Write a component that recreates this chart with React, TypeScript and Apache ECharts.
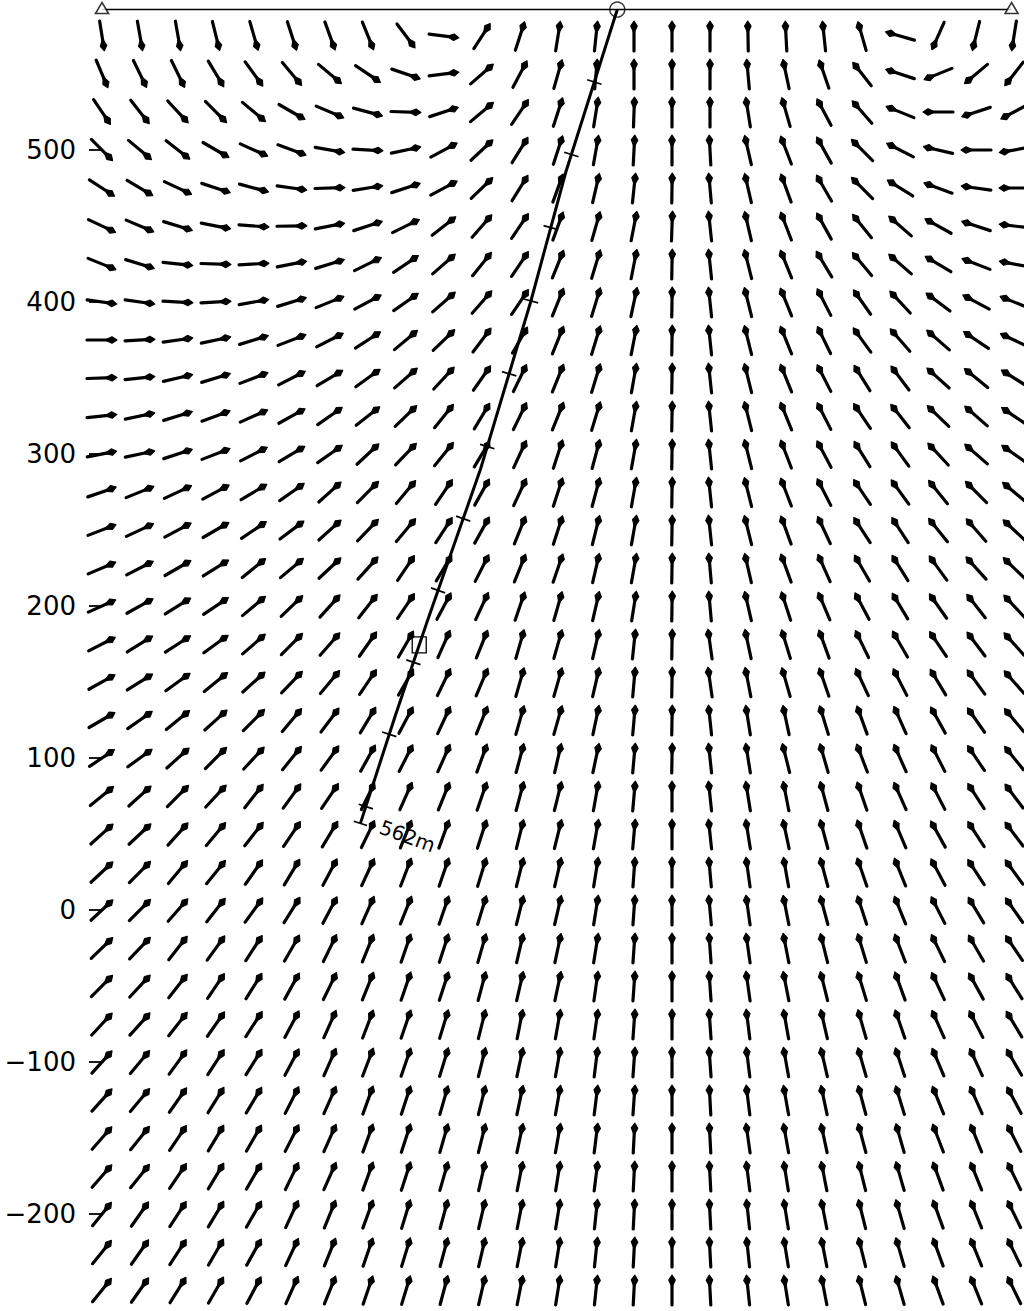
import React, { useEffect, useRef } from "react";
import * as echarts from "echarts";

// Grid of field-vector nodes (metres)
const colX = [0, 25, 50, 75, 100, 125, 150, 175, 200, 225, 250, 275, 300, 325, 350, 375, 400, 425, 450, 475, 500, 525, 550, 575, 600];
const rowY = [575, 550, 525, 500, 475, 450, 425, 400, 375, 350, 325, 300, 275, 250, 225, 200, 175, 150, 125, 100, 75, 50, 25, 0, -25, -50, -75, -100, -125, -150, -175, -200, -225, -250];

// Direction of each field vector, degrees counter-clockwise from +x (one row per rowY)
const fieldAngles: number[][] = [
  [-81, -80, -80, -76, -74, -72, -70, -68, -53, -7, 57, 72, 81, 84, 90, 90, 90, 91, 93, 96, 106, 164, 246, 256, 261],
  [-67, -64, -64, -59, -54, -50, -40, -34, -19, 7, 41, 62, 74, 85, 90, 90, 90, 95, 102, 109, 128, 162, 202, 220, 232],
  [-56, -52, -47, -45, -40, -30, -23, -15, -2, 18, 40, 56, 72, 81, 88, 90, 90, 99, 106, 118, 131, 158, 180, 198, 208],
  [-45, -40, -38, -30, -24, -20, -10, -3, 12, 28, 43, 58, 72, 80, 87, 90, 93, 103, 111, 119, 135, 153, 167, 180, 190],
  [-33, -31, -25, -18, -15, -8, 2, 9, 18, 28, 44, 58, 70, 77, 84, 89, 95, 103, 110, 120, 135, 148, 160, 172, 180],
  [-25, -23, -17, -11, -4, 1, 11, 18, 26, 38, 49, 56, 70, 74, 79, 88, 96, 103, 111, 119, 129, 139, 151, 162, 173],
  [-22, -17, -6, -2, 3, 11, 17, 26, 34, 41, 51, 56, 68, 73, 79, 89, 96, 104, 112, 121, 130, 139, 149, 159, 169],
  [-8, -8, -3, 3, 10, 17, 22, 28, 35, 41, 49, 56, 68, 73, 78, 89, 96, 104, 112, 117, 125, 133, 143, 152, 158],
  [0, 3, 8, 12, 17, 21, 27, 33, 40, 44, 53, 60, 68, 73, 79, 89, 96, 104, 112, 116, 126, 131, 139, 146, 155],
  [2, 6, 13, 17, 21, 27, 31, 36, 41, 47, 55, 64, 68, 73, 80, 89, 96, 104, 112, 117, 122, 127, 138, 141, 148],
  [6, 12, 17, 20, 24, 29, 35, 38, 44, 51, 59, 64, 68, 73, 80, 89, 96, 104, 112, 117, 124, 128, 136, 139, 146],
  [11, 12, 18, 21, 27, 31, 35, 43, 46, 51, 59, 65, 72, 75, 80, 89, 96, 104, 111, 118, 122, 126, 133, 139, 145],
  [19, 22, 25, 28, 31, 35, 42, 45, 50, 56, 61, 65, 72, 75, 80, 89, 96, 104, 111, 117, 124, 126, 129, 135, 140],
  [21, 25, 28, 30, 34, 37, 42, 46, 50, 57, 61, 68, 72, 76, 80, 89, 96, 104, 110, 115, 123, 123, 129, 131, 137],
  [23, 27, 30, 32, 39, 40, 43, 48, 56, 59, 63, 68, 71, 77, 80, 89, 95, 103, 110, 114, 120, 122, 126, 132, 136],
  [24, 29, 32, 34, 40, 44, 48, 52, 56, 62, 65, 71, 74, 77, 81, 89, 95, 103, 108, 113, 118, 121, 125, 128, 133],
  [27, 32, 33, 36, 41, 45, 49, 55, 60, 66, 68, 74, 74, 77, 84, 89, 98, 102, 107, 110, 116, 120, 124, 127, 132],
  [29, 32, 36, 39, 42, 46, 50, 56, 60, 64, 67, 74, 74, 77, 85, 89, 98, 101, 106, 109, 115, 117, 121, 126, 131],
  [30, 35, 39, 42, 45, 50, 53, 59, 62, 65, 68, 74, 74, 78, 85, 89, 96, 99, 102, 107, 110, 114, 119, 125, 130],
  [34, 36, 42, 45, 47, 51, 54, 61, 63, 66, 70, 75, 77, 78, 85, 89, 96, 99, 104, 106, 111, 114, 117, 124, 129],
  [39, 42, 45, 47, 52, 54, 56, 64, 66, 68, 71, 75, 76, 80, 85, 90, 96, 99, 101, 105, 109, 114, 117, 123, 127],
  [42, 43, 48, 50, 52, 56, 59, 64, 68, 70, 72, 76, 76, 80, 85, 90, 96, 99, 102, 105, 109, 113, 119, 123, 127],
  [43, 45, 50, 51, 55, 59, 62, 65, 69, 71, 73, 76, 77, 81, 86, 90, 95, 98, 100, 105, 109, 112, 118, 123, 126],
  [43, 45, 49, 52, 54, 58, 62, 66, 68, 71, 73, 76, 77, 81, 86, 90, 95, 98, 101, 105, 108, 112, 117, 121, 125],
  [44, 46, 52, 54, 57, 60, 64, 68, 71, 72, 74, 77, 78, 81, 86, 90, 94, 98, 101, 104, 107, 111, 116, 120, 124],
  [45, 47, 52, 56, 58, 61, 64, 68, 71, 72, 75, 77, 78, 82, 86, 90, 94, 98, 101, 104, 107, 110, 115, 119, 122],
  [47, 48, 52, 55, 57, 62, 66, 69, 71, 73, 76, 79, 80, 82, 86, 90, 94, 97, 100, 103, 106, 109, 114, 117, 121],
  [48, 50, 54, 57, 58, 62, 66, 69, 71, 73, 76, 78, 80, 83, 86, 90, 94, 97, 100, 103, 106, 108, 113, 115, 120],
  [48, 50, 55, 58, 59, 63, 66, 70, 72, 74, 76, 78, 80, 83, 86, 90, 93, 97, 100, 102, 105, 107, 112, 114, 118],
  [49, 51, 56, 59, 60, 63, 66, 70, 72, 74, 76, 78, 80, 83, 87, 90, 93, 98, 100, 102, 105, 106, 111, 112, 117],
  [49, 51, 56, 59, 60, 64, 66, 70, 72, 74, 77, 79, 81, 83, 87, 90, 93, 97, 99, 101, 104, 106, 110, 112, 116],
  [51, 55, 57, 59, 60, 65, 68, 70, 73, 75, 77, 79, 81, 84, 87, 90, 93, 96, 99, 101, 104, 106, 110, 112, 116],
  [51, 55, 57, 60, 61, 65, 68, 71, 73, 75, 77, 79, 81, 84, 87, 90, 93, 96, 99, 101, 104, 106, 110, 112, 116],
  [51, 55, 58, 60, 62, 66, 68, 71, 73, 75, 77, 79, 81, 84, 87, 90, 93, 96, 99, 101, 104, 106, 110, 112, 116],
];

// Surface line, stations and well
const surfaceLevel = 592.4;
const surfaceSpan = [0, 598.4];
const stationX = [0, 598.4];
const wellheadX = 339;
const trajectory: number[][] = [
  [339, 592.4], [305, 485], [282, 400], [249, 290], [214, 190], [193, 128], [170, 57],
];
const mdTicks = [50, 100, 150, 200, 250, 300, 350, 400, 450, 500, 550];
const sensorMD = 438;
const depthLabel = "562m";

// Axis tick values
const yTickValues = [-200, -100, 0, 100, 200, 300, 400, 500];

// ---- layout constants (pixels) ----
const PX_PER_M = 1.52;
const GRID_LEFT = 100;
const COL0_PX = 102;
const CHART_W = 1024;
const CHART_H = 1311;
const ZERO_PX = 910;

function segLengths() {
  const out: number[] = [];
  for (let i = 0; i < trajectory.length - 1; i++) {
    const [x0, y0] = trajectory[i];
    const [x1, y1] = trajectory[i + 1];
    out.push(Math.hypot(x1 - x0, y1 - y0));
  }
  return out;
}

function pointAt(md: number) {
  const lens = segLengths();
  let acc = 0;
  for (let i = 0; i < lens.length; i++) {
    const len = lens[i];
    if (acc + len >= md || i === lens.length - 1) {
      const t = Math.max(0, Math.min(1, (md - acc) / len));
      const [x0, y0] = trajectory[i];
      const [x1, y1] = trajectory[i + 1];
      return { x: x0 + (x1 - x0) * t, y: y0 + (y1 - y0) * t, dx: (x1 - x0) / len, dy: (y1 - y0) / len };
    }
    acc += len;
  }
  return { x: 0, y: 0, dx: 0, dy: -1 };
}

function totalLength() {
  return segLengths().reduce((a, b) => a + b, 0);
}

function buildOption() {
  const arrowData: number[][] = [];
  rowY.forEach((y, r) => {
    colX.forEach((x, c) => {
      arrowData.push([x, y, fieldAngles[r][c]]);
    });
  });

  const xMin = (GRID_LEFT - COL0_PX) / PX_PER_M;
  const xMax = xMin + (CHART_W - GRID_LEFT) / PX_PER_M;
  const yMax = ZERO_PX / PX_PER_M;
  const yMin = -(CHART_H - ZERO_PX) / PX_PER_M;

  const L = 30;

  const arrowRender = (params: any, api: any) => {
    const x = api.value(0);
    const y = api.value(1);
    const a = (api.value(2) * Math.PI) / 180;
    const c = api.coord([x, y]);
    const ux = Math.cos(a);
    const uy = -Math.sin(a);
    const tail = [c[0] - (ux * L) / 2, c[1] - (uy * L) / 2];
    const tip = [c[0] + (ux * L) / 2, c[1] + (uy * L) / 2];
    const px = -uy;
    const py = ux;
    const hw = 3.3;
    const hm = 5;
    const hb = 12;
    const head = [
      tip,
      [tip[0] - ux * hm + px * hw, tip[1] - uy * hm + py * hw],
      [tip[0] - ux * hb, tip[1] - uy * hb],
      [tip[0] - ux * hm - px * hw, tip[1] - uy * hm - py * hw],
    ];
    return {
      type: "group",
      children: [
        {
          type: "line",
          shape: { x1: tail[0], y1: tail[1], x2: tip[0] - ux * 4, y2: tip[1] - uy * 4 },
          style: { stroke: "#000", lineWidth: 3.2, lineCap: "round" },
        },
        { type: "polygon", shape: { points: head }, style: { fill: "#000", stroke: "#000", lineWidth: 1.1, lineJoin: "round" } },
      ],
    };
  };

  const tickRender = (params: any, api: any) => {
    const md = api.value(0);
    const p = pointAt(md);
    const c = api.coord([p.x, p.y]);
    const sx = p.dx;
    const sy = -p.dy;
    const nx = -sy;
    const ny = sx;
    const h = 7.5;
    return {
      type: "line",
      shape: { x1: c[0] - nx * h, y1: c[1] - ny * h, x2: c[0] + nx * h, y2: c[1] + ny * h },
      style: { stroke: "#000", lineWidth: 1.7 },
    };
  };

  const endRender = (params: any, api: any) => {
    const end = pointAt(totalLength());
    const c = api.coord([end.x, end.y]);
    const sx = end.dx;
    const sy = -end.dy;
    const nx = -sy;
    const ny = sx;
    const h = 7;
    const s = pointAt(sensorMD);
    const sc = api.coord([s.x, s.y]);
    return {
      type: "group",
      children: [
        {
          type: "line",
          shape: { x1: c[0] - nx * h, y1: c[1] - ny * h, x2: c[0] + nx * h, y2: c[1] + ny * h },
          style: { stroke: "#000", lineWidth: 1.7 },
        },
        {
          type: "rect",
          shape: { x: sc[0] - 7, y: sc[1] - 8, width: 14, height: 16 },
          style: { fill: "rgba(0,0,0,0)", stroke: "#000", lineWidth: 1.3 },
        },
        {
          type: "text",
          x: c[0] + 20,
          y: c[1] + 3,
          rotation: -0.35,
          style: {
            text: depthLabel,
            fill: "#000",
            font: "20px 'DejaVu Sans'",
            textAlign: "left",
            textVerticalAlign: "middle",
          },
        },
      ],
    };
  };

  return {
    animation: false,
    backgroundColor: "#ffffff",
    grid: { left: GRID_LEFT, right: 0, top: 0, bottom: 0, containLabel: false },
    xAxis: {
      type: "value",
      min: xMin,
      max: xMax,
      show: false,
      splitLine: { show: false },
    },
    yAxis: {
      type: "value",
      min: yMin,
      max: yMax,
      axisLine: { show: false },
      splitLine: { show: false },
      axisTick: { show: true, length: 13, customValues: yTickValues, lineStyle: { color: "#000", width: 1.8 } },
      axisLabel: {
        margin: 24,
        color: "#000",
        fontSize: 26,
        fontFamily: "'DejaVu Sans'",
        customValues: yTickValues,
        formatter: (v: number) => String(v).replace("-", "\u2212"),
      },
    },
    series: [
      {
        type: "custom",
        name: "field",
        renderItem: arrowRender,
        data: arrowData,
        encode: { x: 0, y: 1 },
        clip: false,
        silent: true,
        z: 2,
      },
      {
        type: "line",
        name: "surface",
        data: [[surfaceSpan[0], surfaceLevel], [surfaceSpan[1], surfaceLevel]],
        symbol: "none",
        lineStyle: { color: "#000", width: 1.6 },
        silent: true,
        z: 3,
      },
      {
        type: "line",
        name: "well",
        data: trajectory,
        symbol: "none",
        lineStyle: { color: "#000", width: 3 },
        silent: true,
        z: 4,
      },
      {
        type: "custom",
        name: "mdTicks",
        renderItem: tickRender,
        data: mdTicks.map((m) => [m]),
        clip: false,
        silent: true,
        z: 5,
      },
      {
        type: "custom",
        name: "wellEnd",
        renderItem: endRender,
        data: [[0]],
        clip: false,
        silent: true,
        z: 5,
      },
      {
        type: "scatter",
        name: "stations",
        data: stationX.map((x) => [x, surfaceLevel + 1]),
        symbol: "triangle",
        symbolSize: [13, 11],
        itemStyle: { color: "#fff", borderColor: "#000", borderWidth: 1.6 },
        silent: true,
        z: 6,
      },
      {
        type: "scatter",
        name: "wellhead",
        data: [[wellheadX, surfaceLevel]],
        symbol: "circle",
        symbolSize: 15,
        itemStyle: { color: "rgba(0,0,0,0)", borderColor: "#000", borderWidth: 1.4 },
        silent: true,
        z: 6,
      },
    ],
  };
}

export default function App() {
  const ref = useRef<HTMLDivElement>(null);
  useEffect(() => {
    if (!ref.current) return;
    const chart = echarts.init(ref.current, null, { renderer: "svg" });
    chart.setOption(buildOption() as any);
    return () => chart.dispose();
  }, []);
  return (
    <div
      ref={ref}
      style={{ position: "fixed", left: 0, top: 0, width: CHART_W, height: CHART_H, background: "#fff" }}
    />
  );
}
